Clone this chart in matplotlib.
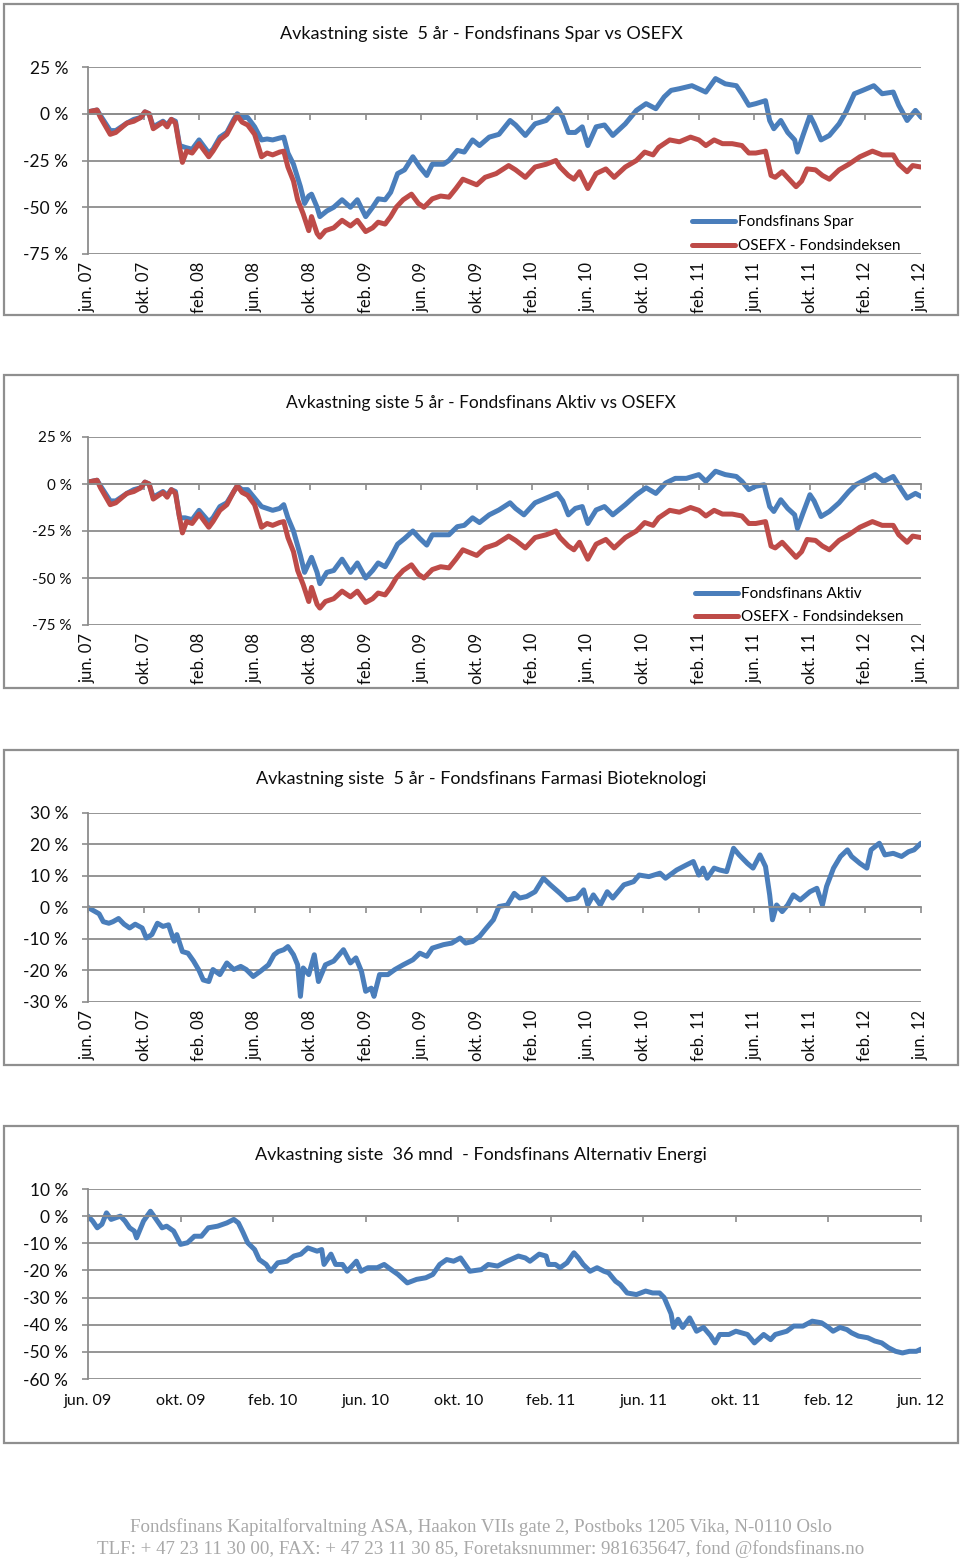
import matplotlib
matplotlib.use("Agg")
import matplotlib.pyplot as plt
from matplotlib.patches import Rectangle
from matplotlib.transforms import offset_copy

plt.rcParams['font.family'] = ['Lato', 'DejaVu Sans']

W, H = 960, 1559

# ---------------- data (x = months since jun. 07 / jun. 09) ----------------
x5_labels = ["jun. 07", "okt. 07", "feb. 08", "jun. 08", "okt. 08", "feb. 09", "jun. 09", "okt. 09",
             "feb. 10", "jun. 10", "okt. 10", "feb. 11", "jun. 11", "okt. 11", "feb. 12", "jun. 12"]
x3_labels = ["jun. 09", "okt. 09", "feb. 10", "jun. 10", "okt. 10", "feb. 11", "jun. 11",
             "okt. 11", "feb. 12", "jun. 12"]

osefx = [(0, 1), (0.65, 2), (0.9, -2), (1.6, -11), (2.0, -10), (2.8, -5), (3.3, -4), (3.8, -2), (4.1, 1),
         (4.4, 0), (4.7, -8), (5.4, -4.5), (5.7, -7), (6.0, -3), (6.3, -5), (6.6, -18), (6.8, -26), (7.1, -20),
         (7.5, -21), (8.0, -16), (8.7, -23), (9.0, -20), (9.5, -14), (10.0, -11), (10.5, -4), (10.75, -1),
         (11.1, -4.5), (11.5, -6), (12.0, -11), (12.5, -23), (12.9, -21), (13.3, -22), (13.8, -20.5), (14.1, -20),
         (14.4, -28.5), (14.8, -36), (15.1, -46), (15.5, -53.5), (15.9, -62.5), (16.1, -55), (16.5, -64),
         (16.7, -66), (17.1, -62.5), (17.7, -61), (18.3, -57), (18.9, -60), (19.4, -57), (20.0, -63), (20.5, -61),
         (20.9, -58), (21.4, -59), (21.8, -55), (22.2, -50), (22.7, -46), (23.3, -43), (23.8, -48), (24.2, -50),
         (24.8, -45.5), (25.4, -44), (26.0, -44.6), (26.5, -40), (27.0, -35), (27.5, -36.5), (28.0, -38),
         (28.6, -34), (29.4, -32), (30.3, -27.7), (30.8, -30), (31.5, -34), (32.2, -28.5), (33.0, -27),
         (33.7, -25), (34.0, -28.5), (34.6, -33), (35.0, -35), (35.4, -31), (36.0, -40), (36.6, -32),
         (37.3, -29.5), (37.9, -34), (38.7, -28.5), (39.5, -25), (40.1, -20.5), (40.7, -22), (41.1, -18),
         (41.9, -14), (42.6, -15), (43.4, -12.5), (44.0, -14), (44.5, -17), (45.1, -14), (45.7, -16),
         (46.4, -16), (47.1, -17), (47.6, -21), (48.1, -21), (48.8, -20), (49.2, -33), (49.5, -34), (50.0, -31),
         (50.5, -35), (51.0, -39), (51.4, -36), (51.8, -29.5), (52.4, -30), (52.9, -33), (53.4, -35),
         (54.1, -30), (54.8, -27), (55.6, -23), (56.5, -20), (57.2, -22), (58.0, -22), (58.4, -27), (59.0, -31),
         (59.4, -27.7), (60.0, -28.5)]

spar = [(0, 1), (0.65, 2), (0.9, -1), (1.6, -9), (2.0, -9), (2.8, -5), (3.3, -3), (3.8, -2), (4.1, 1), (4.4, 0),
        (4.7, -7), (5.4, -4), (5.7, -6), (6.0, -3), (6.3, -4), (6.6, -17), (7.0, -18), (7.5, -19), (8.0, -14),
        (8.7, -21), (9.0, -19), (9.5, -12.5), (10.0, -10), (10.5, -3), (10.75, 0), (11.1, -2), (11.5, -2),
        (12.0, -7), (12.5, -14), (12.9, -13.5), (13.3, -14), (13.8, -13), (14.1, -12.5), (14.4, -21), (14.8, -27),
        (15.3, -39), (15.6, -48), (15.9, -44), (16.1, -43), (16.5, -50), (16.7, -55), (17.2, -52), (17.7, -50),
        (18.3, -46), (18.9, -50), (19.4, -46), (20.0, -55), (20.5, -50), (20.9, -45.5), (21.4, -46), (21.8, -42),
        (22.3, -32), (22.8, -30), (23.4, -23), (23.9, -28.5), (24.4, -33), (24.8, -27), (25.6, -27), (26.0, -25),
        (26.6, -19.6), (27.1, -20.5), (27.7, -14), (28.2, -17), (28.9, -12.5), (29.6, -11), (30.4, -3.6),
        (30.8, -6), (31.5, -11.6), (32.2, -5.4), (33.0, -3.6), (33.8, 2.7), (34.2, -1.8), (34.6, -10),
        (35.1, -10), (35.6, -7), (36.0, -17), (36.6, -7), (37.2, -6), (37.8, -11.6), (38.7, -5.4), (39.5, 1.8),
        (40.2, 5.4), (40.9, 2.7), (41.5, 9), (42.0, 12.5), (42.6, 13.4), (43.5, 15), (44.5, 11.6), (45.2, 18.8),
        (45.9, 16), (46.7, 15), (47.1, 10.7), (47.6, 4.5), (48.1, 5.4), (48.8, 7), (49.1, -3.6), (49.4, -8),
        (49.9, -3.6), (50.4, -10), (50.9, -14), (51.1, -20.5), (51.5, -11.6), (52.0, -1), (52.3, -5.4),
        (52.8, -14), (53.4, -11.6), (54.1, -5.4), (54.6, 1), (55.2, 10.7), (55.8, 12.5), (56.6, 15),
        (57.2, 10.7), (58.0, 11.6), (58.4, 4.5), (59.0, -3.6), (59.6, 1.8), (60.0, -1.8)]

aktiv = [(0, 1), (0.65, 2), (0.9, -1), (1.6, -9), (2.0, -9), (2.8, -5), (3.3, -3), (3.8, -2), (4.1, 1), (4.4, 0),
         (4.7, -7), (5.4, -4), (5.7, -6), (6.0, -3), (6.3, -4), (6.6, -18), (7.0, -18), (7.5, -19), (8.0, -14),
         (8.7, -20), (9.0, -18), (9.5, -12), (10.0, -10), (10.5, -4), (10.75, -1), (11.1, -3), (11.5, -3),
         (12.0, -7.5), (12.5, -12), (13.3, -14), (13.8, -13), (14.1, -11), (14.4, -18), (14.8, -25), (15.3, -38),
         (15.6, -47), (16.1, -39), (16.5, -47), (16.7, -53), (17.2, -47), (17.7, -46), (18.3, -40), (18.9, -47),
         (19.4, -42), (20.0, -50), (20.5, -46), (20.9, -42), (21.4, -44), (21.8, -39), (22.3, -32), (22.8, -29),
         (23.4, -25), (23.9, -29), (24.4, -32.5), (24.8, -27), (25.6, -27), (26.0, -27), (26.6, -22.7),
         (27.1, -22), (27.7, -18), (28.2, -20.5), (28.9, -16.4), (29.6, -13.8), (30.4, -10), (30.8, -13),
         (31.4, -16.4), (32.2, -10), (33.0, -7.5), (33.8, -5), (34.2, -9), (34.6, -16.4), (35.1, -13),
         (35.6, -12), (36.0, -21), (36.6, -13.8), (37.2, -12), (37.8, -16.4), (38.7, -11), (39.5, -5.7),
         (40.2, -2), (40.9, -5), (41.6, 0.5), (42.3, 3), (43.1, 3), (44.0, 5), (44.5, 1.4), (45.2, 6.8),
         (45.9, 5), (46.7, 4), (47.1, 1.4), (47.6, -3), (48.1, -1.2), (48.7, -0.4), (49.1, -12), (49.4, -14.6),
         (49.9, -8.4), (50.4, -13), (50.9, -16.4), (51.1, -23.6), (51.5, -15.5), (52.0, -5.7), (52.3, -9),
         (52.8, -17.3), (53.4, -14.6), (54.1, -10), (54.8, -4), (55.3, -0.4), (56.0, 2.3), (56.7, 5),
         (57.3, 1.4), (58.0, 4), (58.6, -3), (59.0, -7.5), (59.6, -5), (60.0, -6.6)]

farmasi = [(0, 0), (0.4, -1), (0.8, -2), (1.1, -4.5), (1.5, -5), (1.8, -4.5), (2.2, -3.5), (2.6, -5.3), (3.0, -6.5),
           (3.4, -5.3), (3.9, -6.5), (4.2, -9.7), (4.6, -8.6), (5.0, -5), (5.4, -6), (5.8, -5.5), (6.2, -10.7),
           (6.4, -8.6), (6.8, -14), (7.2, -14.5), (7.6, -17), (8.0, -20), (8.3, -23), (8.7, -23.5), (9.0, -19.7),
           (9.5, -21.3), (10.0, -17.6), (10.5, -19.7), (11.0, -18.7), (11.4, -19.7), (11.9, -21.9), (12.4, -20.3),
           (13.0, -18.2), (13.4, -15), (13.7, -14), (14.1, -13.4), (14.4, -12.4), (14.8, -15), (15.1, -18.2),
           (15.3, -28.2), (15.5, -19.2), (15.9, -21.3), (16.3, -15), (16.6, -23.5), (17.1, -18.2), (17.7, -17),
           (18.4, -13.4), (18.9, -17.6), (19.3, -16), (19.7, -20.3), (20.0, -26.6), (20.4, -25.6), (20.6, -28.2),
           (21.0, -21.3), (21.6, -21.3), (22.1, -19.7), (22.7, -18.2), (23.4, -16.6), (23.9, -14.5), (24.4, -15.5),
           (24.8, -12.9), (25.6, -11.8), (26.2, -11.3), (26.8, -9.7), (27.2, -11.3), (27.7, -10.8), (28.2, -9.2),
           (28.7, -6.5), (29.2, -3.9), (29.6, 0.3), (30.2, 0.8), (30.7, 4.5), (31.1, 3), (31.6, 3.5), (32.2, 5),
           (32.8, 9.3), (33.3, 7.2), (34.0, 4.5), (34.5, 2.4), (35.2, 3), (35.7, 5.6), (36.0, 0.8), (36.4, 4),
           (36.9, 0.8), (37.4, 5), (37.8, 3), (38.6, 7.2), (39.3, 8.2), (39.7, 10.3), (40.4, 9.8), (41.2, 10.9),
           (41.6, 9.3), (42.4, 11.9), (43.1, 13.5), (43.6, 14.6), (44.0, 10.3), (44.3, 12.5), (44.6, 9.3),
           (45.1, 12.5), (45.5, 11.9), (46.0, 11.4), (46.5, 18.8), (46.9, 16.7), (47.5, 14), (47.9, 12.5),
           (48.4, 16.7), (48.8, 13), (49.1, 4), (49.3, -3.9), (49.6, 0.8), (50.0, -1.3), (50.4, 0.8), (50.8, 4),
           (51.3, 2.4), (52.0, 5), (52.5, 6.1), (52.9, 0.8), (53.2, 6.7), (53.7, 12.5), (54.2, 16.2), (54.7, 18.3),
           (55.0, 16.2), (55.6, 14), (56.1, 12.5), (56.4, 18.3), (57.0, 20.4), (57.4, 16.7), (58.0, 17.2),
           (58.6, 16.2), (59.1, 17.7), (59.5, 18.3), (60.0, 20.4)]

alt_energi = [(0, 0), (0.2, -1.8), (0.4, -4.3), (0.6, -3), (0.8, 1.2), (1.0, -1.2), (1.4, 0), (1.6, -1.8),
              (1.8, -4.3), (2.0, -5.5), (2.1, -8), (2.4, -1.8), (2.7, 1.8), (2.9, -0.6), (3.2, -4.3), (3.4, -3.7),
              (3.7, -5.5), (4.0, -10.4), (4.3, -9.8), (4.6, -7.4), (4.9, -7.4), (5.2, -4.3), (5.6, -3.7),
              (6.0, -2.5), (6.3, -1.2), (6.5, -2.5), (6.7, -6), (6.9, -9.8), (7.2, -12.3), (7.4, -16),
              (7.7, -17.8), (7.9, -20.3), (8.2, -17.2), (8.6, -16.6), (8.9, -14.7), (9.2, -14), (9.5, -11.7),
              (9.9, -12.9), (10.1, -12.3), (10.2, -17.8), (10.5, -14), (10.7, -17.8), (11.0, -17.8), (11.2, -20.3),
              (11.6, -16.6), (11.8, -20.3), (12.1, -19), (12.5, -19), (12.8, -17.8), (13.1, -19.7), (13.4, -21.5),
              (13.8, -24.6), (14.2, -23.3), (14.6, -22.7), (14.9, -21.5), (15.2, -17.8), (15.5, -16),
              (15.8, -16.6), (16.1, -15.4), (16.5, -20.3), (17.0, -19.7), (17.3, -17.8), (17.7, -18.4),
              (18.1, -16.6), (18.6, -14.7), (18.9, -15.4), (19.1, -16.6), (19.5, -14), (19.8, -14.7),
              (19.9, -17.8), (20.2, -17.8), (20.4, -19), (20.7, -17.2), (21.0, -13.5), (21.2, -15.4),
              (21.4, -17.8), (21.7, -20.3), (22.0, -19), (22.3, -20.3), (22.5, -20.9), (22.8, -24), (23.0, -25.2),
              (23.3, -28.3), (23.7, -28.9), (24.1, -27.6), (24.4, -28.3), (24.7, -28.3), (24.9, -30), (25.2, -36),
              (25.3, -41), (25.5, -38), (25.7, -41), (26.0, -37.5), (26.3, -42.4), (26.6, -41), (26.9, -44),
              (27.1, -46.7), (27.3, -43.6), (27.7, -43.6), (28.0, -42.4), (28.5, -43.6), (28.8, -46.7),
              (29.2, -43.6), (29.5, -45.5), (29.7, -43.6), (30.2, -42.4), (30.5, -40.5), (30.9, -40.5),
              (31.3, -38.7), (31.7, -39.3), (32.0, -41), (32.2, -42.4), (32.5, -41), (32.8, -41.8), (33.0, -43),
              (33.3, -44.2), (33.7, -44.8), (34.0, -46), (34.3, -46.7), (34.6, -48.5), (34.9, -49.8),
              (35.2, -50.4), (35.5, -49.8), (35.8, -49.8), (36.0, -49)]

titles = ["Avkastning siste  5 år - Fondsfinans Spar vs OSEFX",
          "Avkastning siste 5 år - Fondsfinans Aktiv vs OSEFX",
          "Avkastning siste  5 år - Fondsfinans Farmasi Bioteknologi",
          "Avkastning siste  36 mnd  - Fondsfinans Alternativ Energi"]
footer = ["Fondsfinans Kapitalforvaltning ASA, Haakon VIIs gate 2, Postboks 1205 Vika, N-0110 Oslo",
          "TLF: + 47 23 11 30 00, FAX: + 47 23 11 30 85, Foretaksnummer: 981635647, fond @fondsfinans.no"]

BLUE = "#4a7ebb"
RED = "#be4b48"
GRID = "#8c8c8c"
TXT = "#0d0d0d"

fig = plt.figure(figsize=(W / 100, H / 100), dpi=100)


def fx(px):
    return px / W


def fy(py):
    return 1 - py / H


def border(y0, y1):
    fig.add_artist(Rectangle((fx(4), fy(y1)), fx(954), (y1 - y0) / H, transform=fig.transFigure,
                             fill=False, edgecolor="#8f8f8f", lw=1.6))


def panel(top, bot, ylim, yticks, nmonths, xlabels, rotated, ylab_size, ylab_pad):
    ax = fig.add_axes([fx(88), fy(bot), fx(921 - 88), (bot - top) / H])
    ax.set_xlim(0, nmonths)
    ax.set_ylim(*ylim)
    ax.set_yticks(yticks)
    ax.set_yticklabels([f"{v} %" for v in yticks], fontsize=ylab_size, color=TXT)
    ax.yaxis.grid(True, color=GRID, lw=1.3)
    ax.set_axisbelow(True)
    for s in ("top", "right"):
        ax.spines[s].set_visible(False)
    ax.spines["left"].set_color(GRID)
    ax.spines["left"].set_linewidth(1.3)
    ax.spines["bottom"].set_position(("data", 0))
    ax.spines["bottom"].set_color(GRID)
    ax.spines["bottom"].set_linewidth(1.3)
    ax.tick_params(axis="y", direction="out", length=4.3, width=1.2, color=GRID, pad=ylab_pad)
    xt = list(range(0, nmonths + 1, 4))
    ax.set_xticks(xt)
    ax.tick_params(axis="x", direction="out", length=4, width=1.2, color=GRID, labelbottom=False)
    if rotated:
        tr = offset_copy(ax.get_xaxis_transform(), fig=fig, y=-8, units="dots")
        for x, lab in zip(xt, xlabels):
            ax.text(x, 0, lab, transform=tr, rotation=90, ha="center", va="top", fontsize=12, color=TXT)
    else:
        tr = offset_copy(ax.get_xaxis_transform(), fig=fig, y=-15, units="dots")
        for x, lab in zip(xt, xlabels):
            ax.text(x, 0, lab, transform=tr, ha="center", va="top", fontsize=11.5, color=TXT)
    return ax


def line(ax, data, color, label=None):
    xs = [p[0] for p in data]
    ys = [p[1] for p in data]
    ax.plot(xs, ys, color=color, lw=3.6, solid_joinstyle="round", solid_capstyle="round", label=label)


# ---- Panel 1
border(4, 315)
ax1 = panel(67, 254, (-75, 25), [25, 0, -25, -50, -75], 60, x5_labels, True, 12.5, 10)
line(ax1, spar, BLUE, "Fondsfinans Spar")
line(ax1, osefx, RED, "OSEFX - Fondsindeksen")
fig.text(fx(481), fy(34), titles[0], ha="center", va="center", fontsize=13, color=TXT)
ax1.legend(loc="upper left", bbox_to_anchor=(fx(692), fy(215)), bbox_transform=fig.transFigure,
           frameon=False, fontsize=11, handlelength=2.8, handletextpad=0.2, labelspacing=0.65,
           borderpad=0, borderaxespad=0)

# ---- Panel 2
border(375, 688)
ax2 = panel(437, 625, (-75, 25), [25, 0, -25, -50, -75], 60, x5_labels, True, 11, 7.5)
line(ax2, aktiv, BLUE, "Fondsfinans Aktiv")
line(ax2, osefx, RED, "OSEFX - Fondsindeksen")
fig.text(fx(481), fy(403), titles[1], ha="center", va="center", fontsize=12.5, color=TXT)
ax2.legend(loc="upper left", bbox_to_anchor=(fx(695), fy(587)), bbox_transform=fig.transFigure,
           frameon=False, fontsize=11, handlelength=2.8, handletextpad=0.2, labelspacing=0.6,
           borderpad=0, borderaxespad=0)

# ---- Panel 3
border(750, 1065)
ax3 = panel(813, 1002, (-30, 30), [30, 20, 10, 0, -10, -20, -30], 60, x5_labels, True, 12.5, 10)
line(ax3, farmasi, BLUE)
fig.text(fx(481), fy(779), titles[2], ha="center", va="center", fontsize=13, color=TXT)

# ---- Panel 4
border(1126, 1443)
ax4 = panel(1189, 1379, (-60, 10), [10, 0, -10, -20, -30, -40, -50, -60], 36, x3_labels, False, 12.5, 10)
line(ax4, alt_energi, BLUE)
fig.text(fx(481), fy(1155), titles[3], ha="center", va="center", fontsize=13, color=TXT)

# ---- Footer
fig.text(fx(481), fy(1527), footer[0], ha="center", va="center", fontsize=13.6,
         family="Liberation Serif", color="#a8a8a8")
fig.text(fx(481), fy(1549), footer[1], ha="center", va="center", fontsize=13.6,
         family="Liberation Serif", color="#a8a8a8")

fig.savefig("out.png", dpi=100)
